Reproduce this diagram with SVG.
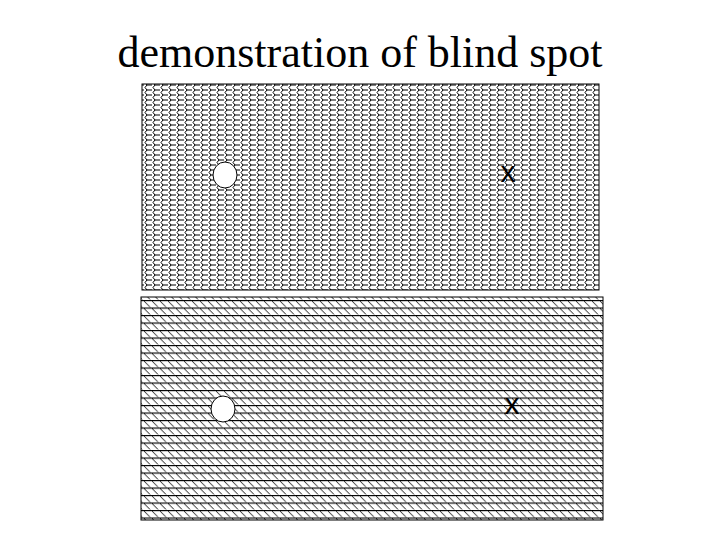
<svg xmlns="http://www.w3.org/2000/svg" width="720" height="540" viewBox="0 0 720 540">
<defs>
<pattern id="scales" width="8" height="5" patternUnits="userSpaceOnUse">
<path d="M8,0 L3,0 L1,2.5 L3,5 L8,5" fill="none" stroke="#000" stroke-width="1"/>
</pattern>
<pattern id="hatch" width="8" height="7.5" patternUnits="userSpaceOnUse">
<rect width="8" height="7.5" fill="#fff"/>
<line x1="0" y1="0.5" x2="8" y2="0.5" stroke="#000" stroke-width="1.3"/>
<line x1="0" y1="1" x2="6" y2="7" stroke="#000" stroke-width="0.9"/>
</pattern>
</defs>
<style>.t{font-family:"Liberation Serif",serif;font-size:44px}.x{font-family:"Liberation Sans",sans-serif;font-size:30px}.e{fill:#fff;stroke:#000;stroke-width:1}</style>
<rect width="720" height="540" fill="#fff"/>
<text class="t" x="360" y="67" text-anchor="middle">demonstration of blind spot</text>
<g id="top">
<rect x="142" y="84" width="457" height="206" fill="#fff"/>
<rect x="142" y="84" width="457" height="206" fill="url(#scales)" stroke="#000"/>
<ellipse class="e" cx="225" cy="175" rx="12" ry="13"/>
<text class="x" x="508" y="182" text-anchor="middle">x</text>
</g>
<g id="bottom">
<rect x="141" y="297" width="462" height="223" fill="url(#hatch)" stroke="#000"/>
<ellipse class="e" cx="223" cy="409" rx="12" ry="13"/>
<text class="x" x="512" y="414" text-anchor="middle">x</text>
</g>
<g id="connectors"/>
</svg>
